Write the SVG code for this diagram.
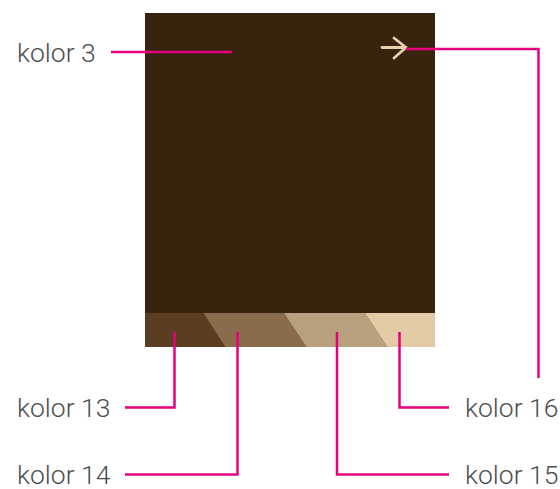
<svg xmlns="http://www.w3.org/2000/svg" width="560" height="489" viewBox="0 0 560 489">
<style>
.lbl{font-family:Roboto,"Liberation Sans",sans-serif;font-weight:300;font-size:26.5px;fill:#4d4d4d}
.ld{fill:none;stroke:#e6007e;stroke-width:2.5}
</style>
<rect width="560" height="489" fill="#ffffff"/>
<g id="screen">
<rect x="145" y="13" width="290" height="300" fill="#38230e"/>
</g>
<g id="strip">
<rect x="145" y="313" width="290" height="34" fill="#5b3e22"/>
<polygon points="203.5,313 284,313 306.5,347 225.5,347" fill="#8a6c4c"/>
<polygon points="284,313 365,313 387.5,347 306.5,347" fill="#b9a07e"/>
<polygon points="365,313 435,313 435,347 387.5,347" fill="#e3cba6"/>
</g>
<g id="arrow" fill="none" stroke="#e8d0ac" stroke-width="2.8" stroke-linecap="round" stroke-linejoin="round">
<path d="M382 47.5H406M394 38L406 47.5L394 58"/>
</g>
<g id="connectors">
<path class="ld" d="M111 52H232"/>
<path class="ld" d="M406 49H538.5V378"/>
<path class="ld" d="M125 407.5H174.5V332"/>
<path class="ld" d="M125 474.5H237.5V332"/>
<path class="ld" d="M449 474.5H337V332"/>
<path class="ld" d="M449 407.5H399.5V332"/>
</g>
<g id="label-kolor3"><text class="lbl" x="17" y="62">kolor 3</text></g>
<g id="label-kolor13"><text class="lbl" x="17" y="417">kolor 13</text></g>
<g id="label-kolor14"><text class="lbl" x="17" y="484">kolor 14</text></g>
<g id="label-kolor16"><text class="lbl" x="465" y="417">kolor 16</text></g>
<g id="label-kolor15"><text class="lbl" x="465" y="484">kolor 15</text></g>
</svg>
